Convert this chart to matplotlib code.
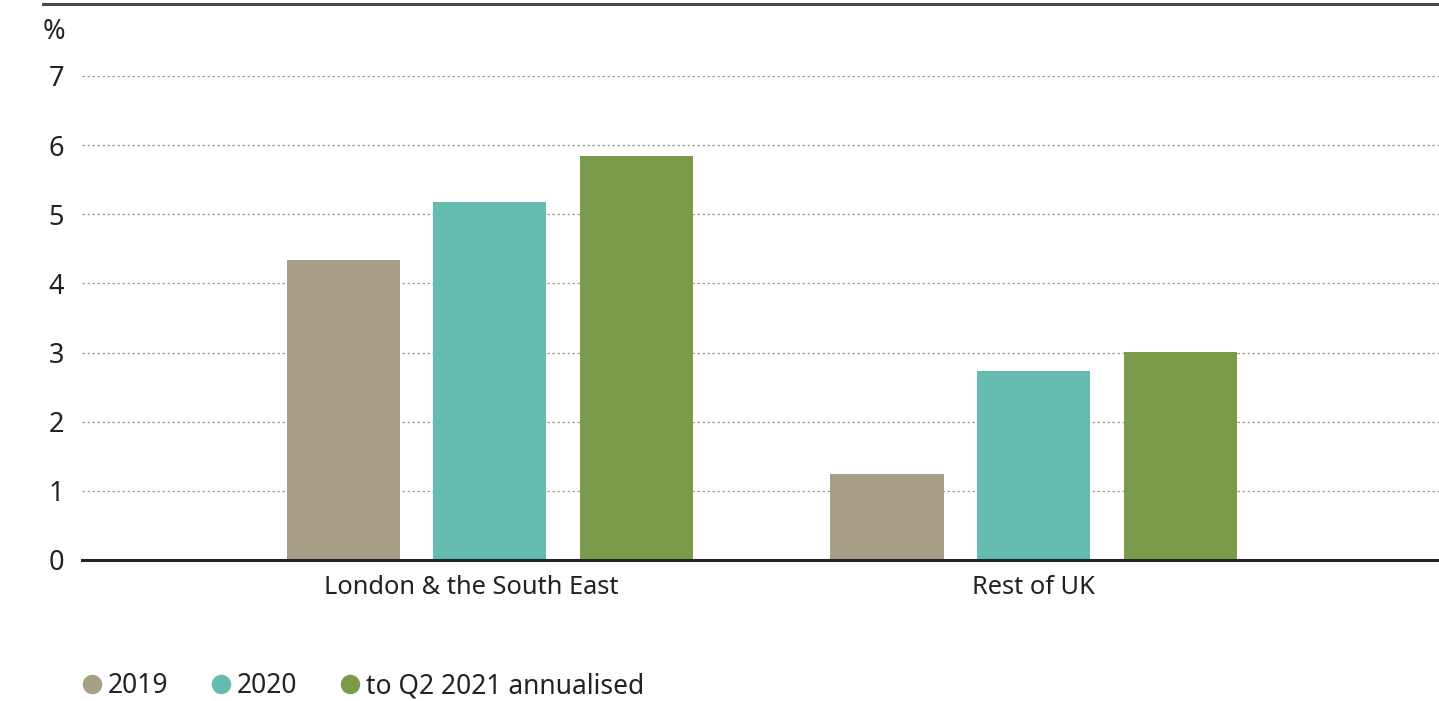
import numpy as np
import matplotlib.pyplot as plt
import matplotlib.transforms as mtransforms
from matplotlib.lines import Line2D

plt.rcParams['font.family'] = ['Noto Sans', 'DejaVu Sans']

categories = ["London & the South East", "Rest of UK"]
series_names = ["2019", "2020", "to Q2 2021 annualised"]
values_2019 = [4.34, 1.24]
values_2020 = [5.18, 2.73]
values_2021 = [5.84, 3.01]
yticks = [0, 1, 2, 3, 4, 5, 6, 7]

colors = ["#a69f86", "#66bbb0", "#7a9c4a"]
text_color = "#1e2328"

fig = plt.figure(figsize=(14.39, 7.01), dpi=100)
ax = fig.add_axes([82 / 1439, 1 - 560 / 701, 1 - 82 / 1439, (560 - 76) / 701])

x = np.arange(len(categories))
width = 0.208
offset = 0.27
for i, (vals, name, col) in enumerate(zip([values_2019, values_2020, values_2021], series_names, colors)):
    ax.bar(x + (i - 1) * offset, vals, width, color=col, label=name, zorder=2)

ax.set_xlim(-0.75, 1.745)
ax.set_ylim(0, 7)
ax.set_yticks(yticks)
ax.set_yticklabels([str(t) for t in yticks], fontsize=19.5, color=text_color)
ax.set_xticks(x)
ax.set_xticklabels(categories, fontsize=18.3, color=text_color)
ax.tick_params(axis="y", length=0, pad=13)
ax.tick_params(axis="x", length=0, pad=11)

# the first category label sits a little left of its group centre in the original
lbl = ax.get_xticklabels()[0]
lbl.set_transform(lbl.get_transform() + mtransforms.ScaledTranslation(-19 / 100, 0, fig.dpi_scale_trans))

for t in yticks[1:]:
    ax.axhline(t, color="#9a9a9a", linestyle=(0, (2, 2)), linewidth=0.9, zorder=1)
ax.axhline(0, color="#1e2328", linewidth=2.2, zorder=3, clip_on=False)

for s in ax.spines.values():
    s.set_visible(False)

fig.text(43 / 1439, 1 - 32 / 701, "%", fontsize=19.5, color=text_color, va="center", ha="left")
fig.add_artist(Line2D([43 / 1439, 1], [1 - 3.5 / 701, 1 - 3.5 / 701], color="#4a4a4a", linewidth=2.2))

handles = [Line2D([], [], marker="o", linestyle="", markersize=13, color=c) for c in colors]
fig.legend(handles, series_names, loc="center left", bbox_to_anchor=(81 / 1439, 1 - 686 / 701),
           ncol=3, frameon=False, fontsize=19, handlelength=0.8, handletextpad=0.2,
           columnspacing=1.6, borderpad=0, borderaxespad=0, labelcolor=text_color)

fig.savefig("out.png", dpi=100)
